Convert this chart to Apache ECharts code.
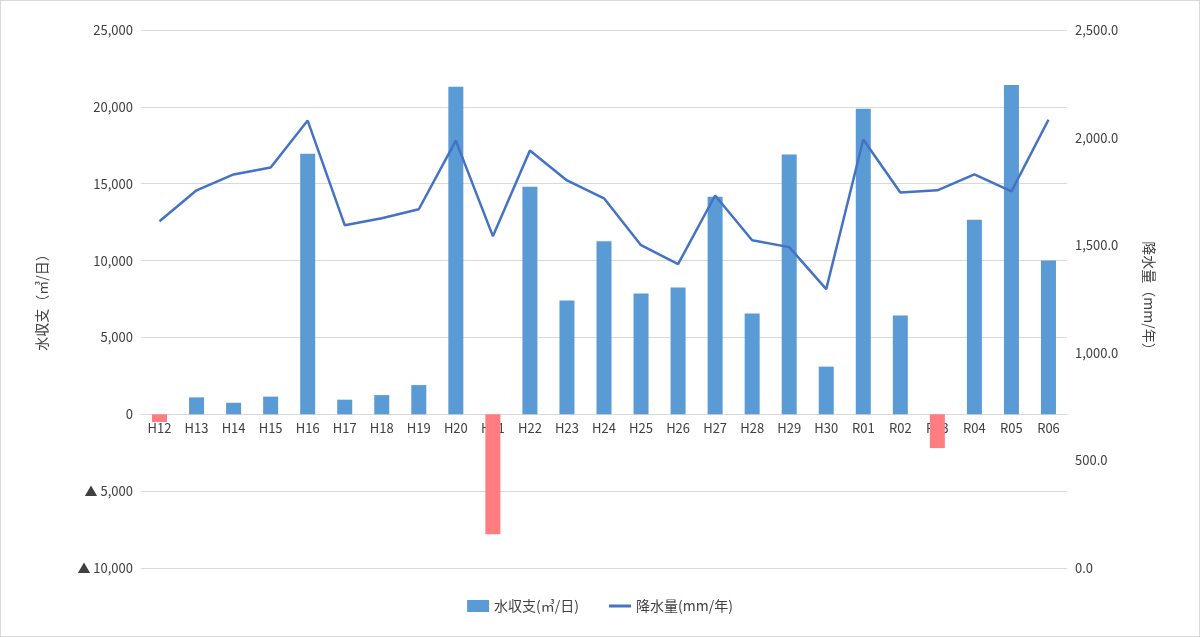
<!DOCTYPE html><html><head><meta charset="utf-8"><script src="https://cdn.jsdelivr.net/npm/echarts@6/dist/echarts.min.js"></script>
<style>body{margin:0}#c{width:1200px;height:637px;box-sizing:border-box;border:1px solid #d9d9d9}</style></head><body><div id="c"></div><script>
const categories=['H12','H13','H14','H15','H16','H17','H18','H19','H20','H21','H22','H23','H24','H25','H26','H27','H28','H29','H30','R01','R02','R03','R04','R05','R06'];
const waterBalance=[-500,1100,750,1150,16950,950,1250,1900,21300,-7800,14800,7400,11250,7850,8250,14150,6550,16900,3100,19870,6430,-2200,12660,21430,10000];
const rainfall=[1611,1755,1829,1861,2079,1593,1625,1667,1986,1542,1940,1801,1718,1500,1412,1731,1523,1491,1296,1991,1745,1755,1829,1750,2083];
const f="'Noto Sans CJK JP','Noto Sans',sans-serif";
const chart=echarts.init(document.getElementById('c'));
chart.setOption({
 textStyle:{fontFamily:f},
 grid:{left:140,right:132,top:29,bottom:68},
 legend:{bottom:18,itemGap:30,itemWidth:22,itemHeight:12,textStyle:{fontSize:14,color:'#404040'},data:[{name:'水収支(㎥/日)',icon:'rect'},{name:'降水量(mm/年)',icon:'path://M0,5h22v3h-22z'}]},
 xAxis:{type:'category',data:categories,axisTick:{show:false},axisLine:{onZero:true,onZeroAxisIndex:0,lineStyle:{color:'#d9d9d9'}},axisLabel:{color:'#404040',fontSize:13,margin:-146}},
 yAxis:[{type:'value',min:-10000,max:25000,interval:5000,name:'水収支（㎥/日）',nameLocation:'middle',nameGap:92,nameRotate:90,nameTextStyle:{fontSize:14,color:'#404040'},
   axisLabel:{color:'#404040',fontSize:13,formatter:v=>v<0?'▲ '+(-v).toLocaleString('en-US'):v.toLocaleString('en-US')},splitLine:{lineStyle:{color:'#d9d9d9'}}},
  {type:'value',min:0,max:2500,interval:500,name:'降水量（mm/年）',nameLocation:'middle',nameGap:75,nameRotate:-90,nameTextStyle:{fontSize:14,color:'#404040'},
   axisLabel:{color:'#404040',fontSize:13,formatter:v=>v.toFixed(1).replace(/\B(?=(\d{3})+\.)/g,',')},splitLine:{show:false}}],
 series:[{name:'水収支(㎥/日)',type:'bar',barWidth:15,data:waterBalance.map(v=>({value:v,itemStyle:{color:v<0?'#FF7C80':'#5B9BD5'}})),itemStyle:{color:'#5B9BD5'}},
  {name:'降水量(mm/年)',type:'line',yAxisIndex:1,data:rainfall,symbol:'none',lineStyle:{color:'#4472C4',width:2.5},itemStyle:{color:'#4472C4'}}]
});
</script></body></html>
